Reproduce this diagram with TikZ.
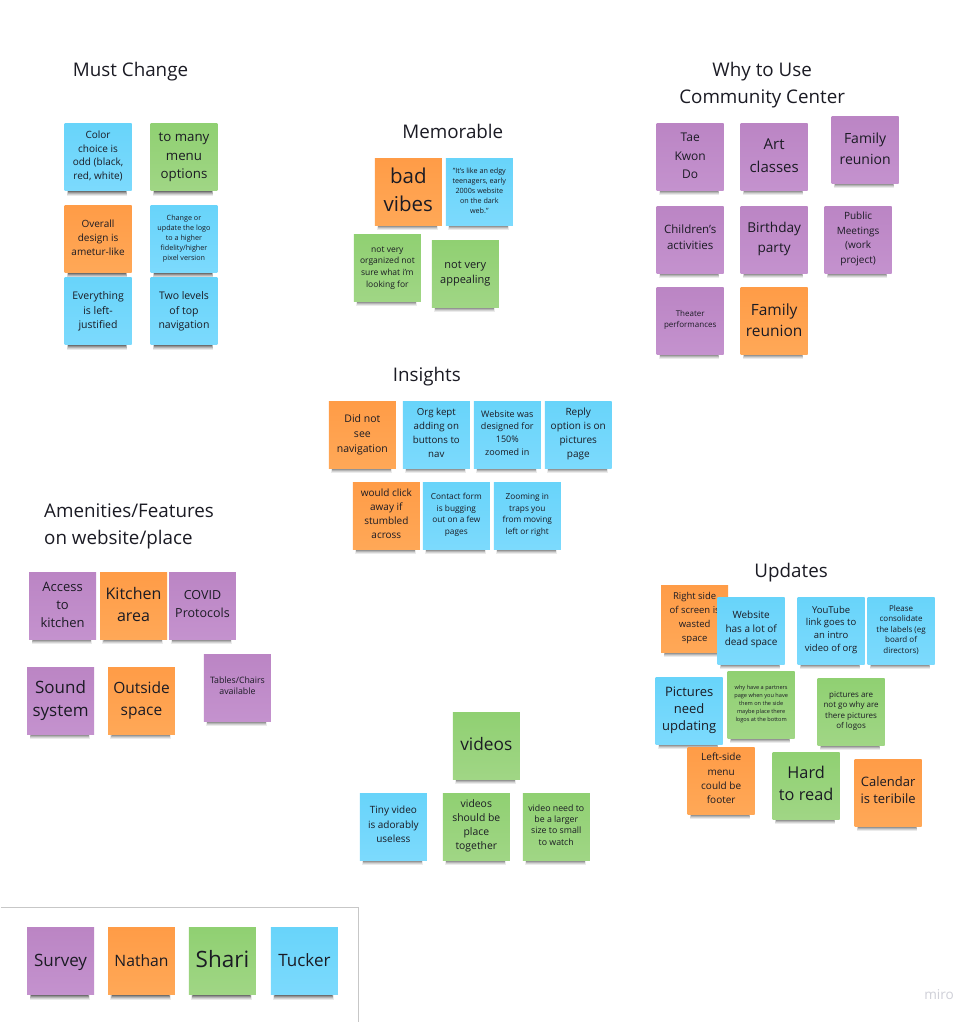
\documentclass[tikz,border=0pt]{standalone}
\usepackage{fontspec}
\setmainfont{Open Sans}
\usetikzlibrary{positioning}
\usetikzlibrary{shadows}

\definecolor{orangetop}{HTML}{FF9C47}
\definecolor{orangebot}{HTML}{FFA857}
\definecolor{purpletop}{HTML}{BB85C4}
\definecolor{purplebot}{HTML}{C492CE}
\definecolor{greentop}{HTML}{90D072}
\definecolor{greenbot}{HTML}{A0D685}
\definecolor{bluetop}{HTML}{68D4FA}
\definecolor{bluebot}{HTML}{7CDAFD}
\definecolor{inktext}{HTML}{1B1B24}
\definecolor{miroink}{HTML}{CFD0D8}

\begin{document}
\begin{tikzpicture}[x=1pt,y=-1pt,fs/.style 2 args={font=\fontsize{#1}{#2}\selectfont},
  sink/.store in=\sinkpt,sink=0]

\tikzstyle{struts} = [execute at begin node=\strut,execute at end node=\strut]
\tikzstyle{sticky} = [rectangle,outer sep=0,inner sep=0,minimum size=67,text=inktext,align=center,
  execute at begin node={\rule{0pt}{.7\baselineskip}},
  execute at end node={\rule[\dimexpr-.3\baselineskip+\sinkpt pt\relax]{0pt}{0pt}},
  general shadow={shadow xshift=-1pt,shadow yshift=-9.35pt,shadow scale=.90,fill=black,opacity=.08},
  general shadow={shadow xshift=-1pt,shadow yshift=-8.7pt,shadow scale=.89,fill=black,opacity=.10},
  general shadow={shadow xshift=-1pt,shadow yshift=-8pt,shadow scale=.88,fill=black,opacity=.14},
  general shadow={shadow xshift=-1pt,shadow yshift=-7.35pt,shadow scale=.87,fill=black,opacity=.18},
  general shadow={shadow xshift=-1pt,shadow yshift=-6.7pt,shadow scale=.86,fill=black,opacity=.25}]
\tikzstyle{orange} = [sticky,top color=orangetop,bottom color=orangebot]
\tikzstyle{purple} = [sticky,top color=purpletop,bottom color=purplebot]
\tikzstyle{green} = [sticky,top color=greentop,bottom color=greenbot]
\tikzstyle{blue} = [sticky,top color=bluetop,bottom color=bluebot]
\tikzstyle{heading} = [text=inktext,align=center,struts,fs={18.8}{26.5}]

\path[fill=white] (0,0) rectangle (977,1023);

% Must Change
\node [heading] (must_change) at (130,71.5) {Must Change};
\node [blue, fs={10}{13.6}] (color_choice) at (97.5,157.5) {Color\\choice is\\odd (black,\\red, white)};
\node [green, fs={13.3}{18.5}, sink=3, right=19pt of color_choice] (to_many) {to many\\menu\\options};
\node [orange, fs={10}{14}, below=15pt of color_choice] (overall) {Overall\\design is\\ametur-like};
\node [blue, fs={7.2}{10}, right=19pt of overall] (change_logo) {Change or\\update the logo\\to a higher\\fidelity/higher\\pixel version};
\node [blue, fs={10.5}{14.5}, sink=2, below=5pt of overall] (everything) {Everything\\is left-\\justified};
\node [blue, fs={10.5}{14.5}, sink=2, right=19pt of everything] (two_levels) {Two levels\\of top\\navigation};

% Memorable
\node [heading] (memorable) at (452.5,133) {Memorable};
\node [orange, fs={20.5}{28}, sink=4] (bad_vibes) at (408,192) {bad\\vibes};
\node [blue, fs={7.2}{10}, right=4pt of bad_vibes] (edgy_quote) {"It's like an edgy\\teenagers, early\\2000s website\\on the dark\\web."};
\node [green, fs={8.5}{11.7}, sink=2] (organized) at (387,268) {not very\\organized not\\sure what i'm\\looking for};
\node [green, fs={11}{15}, sink=2, right=11pt of organized, yshift=-6pt] (appealing) {not very\\appealing};

% Insights
\node [heading] (insights) at (426.5,376) {Insights};
\node [orange, fs={10.5}{15}, sink=2] (did_not_see) at (362,435) {Did not\\see\\navigation};
\node [blue, fs={9.7}{13.9}, right=7pt of did_not_see] (org_kept) {Org kept\\adding on\\buttons to\\nav};
\node [blue, fs={9}{12.8}, right=4pt of org_kept] (website_was) {Website was\\designed for\\150\%\\zoomed in};
\node [blue, fs={10}{14}, right=4pt of website_was] (reply_option) {Reply\\option is on\\pictures\\page};
\node [orange, fs={10}{14}] (would_click) at (386,516) {would click\\away if\\stumbled\\across};
\node [blue, fs={8.3}{11.7}, right=3pt of would_click] (contact_form) {Contact form\\is bugging\\out on a few\\pages};
\node [blue, fs={8.3}{11.7}, right=4pt of contact_form] (zooming_in) {Zooming in\\traps you\\from moving\\left or right};

% Why to Use
\node [heading] (why_use) at (762,87) {Why to Use\\Community Center};
\node [purple, fs={12}{18.5}, sink=4] (tae_kwon) at (690,157) {Tae\\Kwon\\Do};
\node [purple, fs={15}{23}, sink=4, right=17pt of tae_kwon] (art_classes) {Art\\classes};
\node [purple, fs={14}{21}, sink=4, right=24pt of art_classes, yshift=7pt] (family_top) {Family\\reunion};
\node [purple, fs={11.5}{16}, below=16pt of tae_kwon] (childrens) {Children's\\activities};
\node [purple, fs={13.6}{20}, right=17pt of childrens] (birthday) {Birthday\\party};
\node [purple, fs={10}{14.5}, right=17pt of birthday] (public_meet) {Public\\Meetings\\(work\\project)};
\node [purple, fs={8}{11}, below=14pt of childrens] (theater) {Theater\\performances};
\node [orange, fs={15.5}{21}, sink=4, right=17pt of theater] (family_low) {Family\\reunion};

% Amenities
\node [heading, align=left] (amenities) at (128.5,528.5) {Amenities/Features\\on website/place};
\node [purple, fs={13}{18}, sink=4] (access) at (62,606) {Access\\to\\kitchen};
\node [orange, fs={16}{22}, sink=4, right=4pt of access] (kitchen) {Kitchen\\area};
\node [purple, fs={12.5}{18}, sink=3, right=2pt of kitchen] (covid) {COVID\\Protocols};
\node [purple, fs={17}{23}, sink=2, below=28pt of access, xshift=-2pt] (sound) {Sound\\system};
\node [orange, fs={15.5}{22}, sink=2, right=14pt of sound] (outside) {Outside\\space};
\node [purple, fs={8.8}{11}, right=29pt of outside, yshift=13pt] (tables) {Tables/Chairs\\available};

% Videos
\node [green, fs={17.3}{23}] (videos) at (486,746) {videos};
\node [blue, fs={10}{14.5}] (tiny_video) at (393,827) {Tiny video\\is adorably\\useless};
\node [green, fs={10.4}{14}, right=16pt of tiny_video] (place_together) {videos\\should be\\place\\together};
\node [green, fs={8.8}{11.3}, right=13pt of place_together] (larger_size) {video need to\\be a larger\\size to small\\to watch};

% Updates
\node [heading] (updates) at (791,572.5) {Updates};
\node [orange, fs={9.5}{14}] (right_side) at (694.5,619) {Right side\\of screen is\\wasted\\space};
\node [blue, fs={10}{13.5}] (dead_space) at (751,631) {Website\\has a lot of\\dead space};
\node [blue, fs={9.5}{12.7}, right=13pt of dead_space] (youtube) {YouTube\\link goes to\\an intro\\video of org};
\node [blue, fs={8}{10.5}, right=3pt of youtube] (consolidate) {Please\\consolidate\\the labels (eg\\board of\\directors)};
\node [blue, fs={13}{17.2}, sink=2] (pictures_need) at (689,711) {Pictures\\need\\updating};
\node [green, fs={5.6}{7.8}, right=5pt of pictures_need, yshift=6pt] (partners) {why have a partners\\page when you have\\them on the side\\maybe place there\\logos at the bottom};
\node [green, fs={8}{10.6}] (pictures_logos) at (851,712) {pictures are\\not go why are\\there pictures\\of logos};
\node [orange, fs={10}{14.2}] (left_side) at (721,781) {Left-side\\menu\\could be\\footer};
\node [green, fs={16.3}{21.7}, sink=2, right=18pt of left_side, yshift=-5pt] (hard_read) {Hard\\to read};
\node [orange, fs={13}{16.7}, right=15pt of hard_read, yshift=-7pt] (calendar) {Calendar\\is teribile};

% Legend
\coordinate (legend_left) at (0,908);
\coordinate (legend_corner) at (358,908);
\coordinate (legend_bottom) at (358,1023);
\path[draw,line width=1.2pt,color=black!22] (legend_left) -- (legend_corner) -- (legend_bottom);
\node [purple, fs={17}{23}] (survey) at (60,962) {Survey};
\node [orange, fs={15.7}{23}, right=14pt of survey] (nathan) {Nathan};
\node [green, fs={22.5}{28}, right=14pt of nathan] (shari) {Shari};
\node [blue, fs={17}{23}, right=15pt of shari] (tucker) {Tucker};

\node [text=miroink, fs={13.6}{16}] (miro) at (939,995) {miro};

\useasboundingbox (0,0) rectangle (977,1023);
\end{tikzpicture}
\end{document}
